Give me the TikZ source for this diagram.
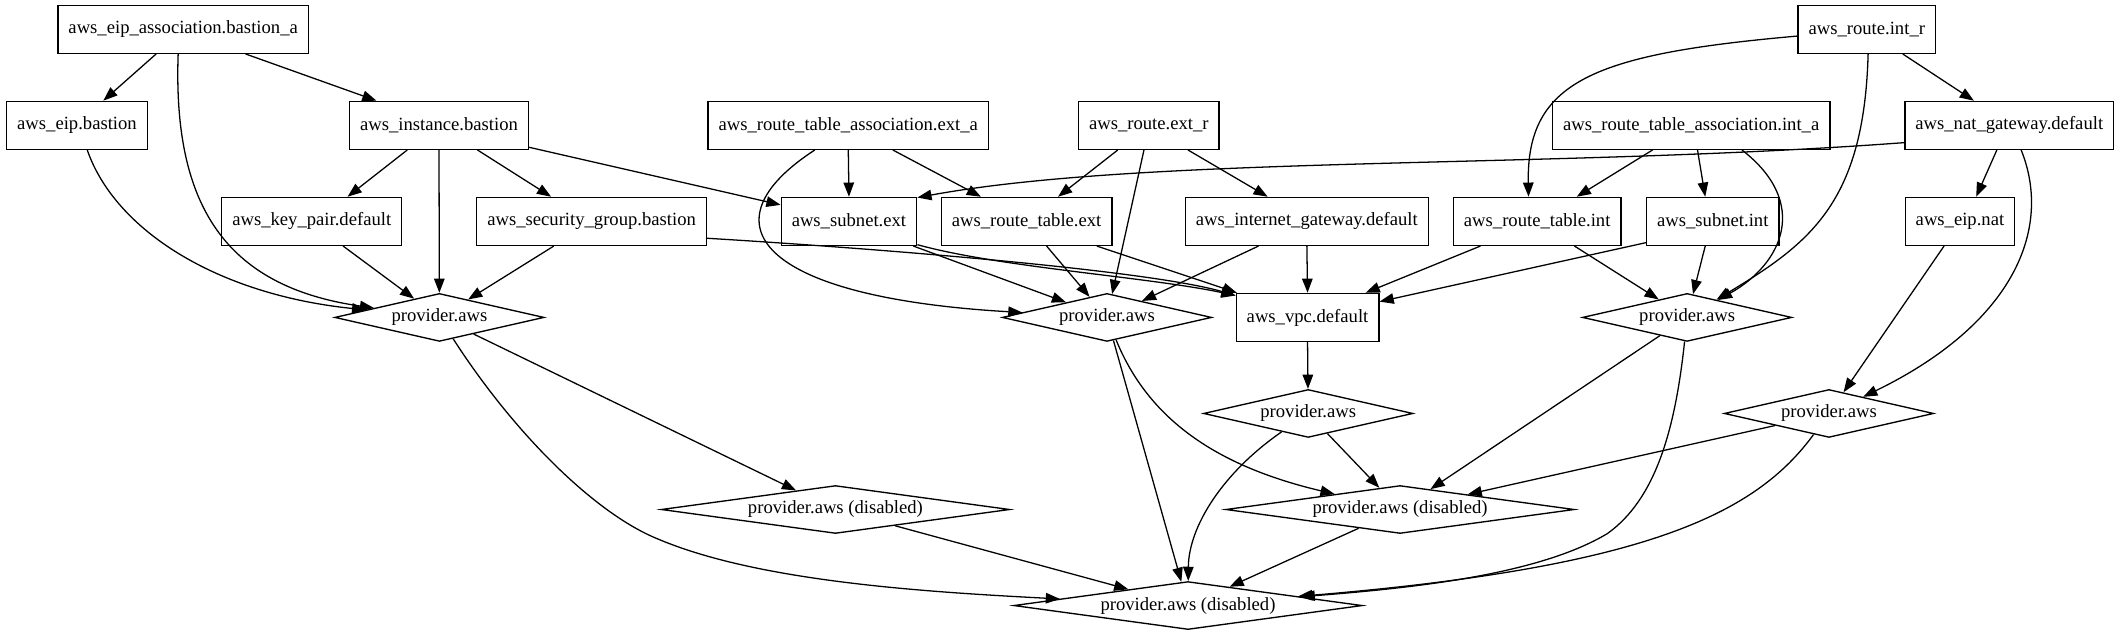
\documentclass[tikz,border=0pt]{standalone}
\usepackage{fontspec}
\setmainfont{Liberation Serif}
\usetikzlibrary{shapes.geometric,arrows.meta}
\begin{document}
\begin{tikzpicture}[x=1pt,y=-1pt,
  every node/.style={font=\fontsize{13.8}{16}\selectfont},
  box/.style={draw, line width=1pt, rectangle, minimum height=35.5pt, inner xsep=7.8pt, inner ysep=0pt},
  dia/.style={draw, line width=1pt, diamond, inner sep=0pt, minimum width=155pt, minimum height=35.5pt, aspect=4.37},
  wdia/.style={dia, minimum width=258pt, aspect=7.3},
  e/.style={draw, line width=0.95pt, -{Triangle[length=10.5pt,width=7.8pt]}}
]
\useasboundingbox (0,0) rectangle (1568,470);
% nodes
\node[box] (eipassoc) at (135.6,21.7) {aws\_eip\_association.bastion\_a};
\node[box] (eipbastion) at (57,92.8) {aws\_eip.bastion};
\node[box] (instance) at (325,92.8) {aws\_instance.bastion};
\node[box] (keypair) at (230.8,163.9) {aws\_key\_pair.default};
\node[box] (secgroup) at (438,163.9) {aws\_security\_group.bastion};
\node[dia] (provL) at (325.3,235) {provider.aws};
\node[box] (rtaext) at (628,92.8) {aws\_route\_table\_association.ext\_a};
\node[box] (routeextr) at (850.5,92.8) {aws\_route.ext\_r};
\node[box] (subnetext) at (628.5,163.9) {aws\_subnet.ext};
\node[box] (rtableext) at (760,163.9) {aws\_route\_table.ext};
\node[box] (igw) at (967.5,163.9) {aws\_internet\_gateway.default};
\node[dia] (provM) at (819.5,235) {provider.aws};
\node[box] (vpc) at (968,235) {aws\_vpc.default};
\node[dia] (provC) at (968.5,306.1) {provider.aws};
\node[box] (routeintr) at (1382,21.7) {aws\_route.int\_r};
\node[box] (rtaint) at (1252,92.8) {aws\_route\_table\_association.int\_a};
\node[box] (nat) at (1487.5,92.8) {aws\_nat\_gateway.default};
\node[box] (rtableint) at (1138,163.9) {aws\_route\_table.int};
\node[box] (subnetint) at (1268,163.9) {aws\_subnet.int};
\node[box] (eipnat) at (1451,163.9) {aws\_eip.nat};
\node[dia] (provR) at (1249,235) {provider.aws};
\node[dia] (provFR) at (1354,306.1) {provider.aws};
\node[wdia] (disL) at (618.5,377.2) {provider.aws (disabled)};
\node[wdia] (disM) at (1036.5,377.2) {provider.aws (disabled)};
\node[wdia] (disB) at (879.5,448.3) {provider.aws (disabled)};
% edges: left group
\draw[e] ([xshift=-20pt]eipassoc.south) -- ([xshift=19.5pt]eipbastion.north);
\draw[e] ([xshift=46.2pt]eipassoc.south) -- ([xshift=-46.3pt]instance.north);
\draw[e] ([xshift=-3.7pt]eipassoc.south) .. controls (128,150) and (165,212) .. (provL);
\draw[e] ([xshift=7.6pt]eipbastion.south) .. controls (85,170) and (160,218) .. (provL);
\draw[e] ([xshift=-23.5pt]instance.south) -- ([xshift=26.5pt]keypair.north);
\draw[e] ([xshift=28.5pt]instance.south) -- ([xshift=-30pt]secgroup.north);
\draw[e] (instance.south) -- (provL);
\draw[e] ([yshift=2pt]instance.south east) -- ([yshift=-6pt]subnetext.north west);
\draw[e] ([xshift=23.2pt]keypair.south) -- (provL);
\draw[e] ([xshift=-28pt]secgroup.south) -- (provL);
\draw[e] ([yshift=-12.5pt]secgroup.east) .. controls (650,184) and (850,200) .. ([yshift=-2pt]vpc.north west);
% middle group
\draw[e] (rtaext.south) -- (subnetext.north);
\draw[e] ([xshift=33pt]rtaext.south) -- ([xshift=-33.8pt]rtableext.north);
\draw[e] ([xshift=-24.8pt]rtaext.south) .. controls (520,165) and (560,220) .. (provM);
\draw[e] ([xshift=-23pt]routeextr.south) -- ([xshift=23.3pt]rtableext.north);
\draw[e] ([xshift=29pt]routeextr.south) -- ([xshift=-29pt]igw.north);
\draw[e] ([xshift=-3.6pt]routeextr.south) -- (provM);
\draw[e] ([xshift=-3pt]subnetext.south east) -- (provM);
\draw[e] ([yshift=1pt]subnetext.south east) .. controls (740,198) and (850,205) .. ([yshift=-2pt]vpc.north west);
\draw[e] ([xshift=52pt]rtableext.south) -- ([xshift=1pt]vpc.north west);
\draw[e] ([xshift=14.8pt]rtableext.south) -- (provM);
\draw[e] ([xshift=-35.8pt]igw.south) -- (provM);
\draw[e] (igw.south) -- (vpc.north);
\draw[e] (vpc.south) -- (provC);
% right group
\draw[e] ([yshift=-12.8pt]nat.west) .. controls (1150,125) and (850,115) .. ([yshift=-0.6pt]subnetext.north east);
\draw[e] ([xshift=-9.2pt]nat.south) -- ([xshift=12pt]eipnat.north);
\draw[e] ([xshift=8.8pt]nat.south) .. controls (1520,170) and (1490,240) .. (provFR);
\draw[e] ([xshift=-11.8pt]eipnat.south) -- (provFR);
\draw[e] ([yshift=-5pt]routeintr.west) .. controls (1180,40) and (1130,60) .. ([xshift=-6.4pt]rtableint.north);
\draw[e] ([xshift=26.6pt]routeintr.south) -- ([xshift=-26.2pt]nat.north);
\draw[e] ([xshift=1pt]routeintr.south) .. controls (1380,150) and (1340,180) .. (provR);
\draw[e] ([xshift=-28.6pt]rtaint.south) -- ([xshift=29.3pt]rtableint.north);
\draw[e] ([xshift=4.7pt]rtaint.south) -- ([xshift=-5.6pt]subnetint.north);
\draw[e] ([xshift=37.6pt]rtaint.south) .. controls (1340,150) and (1320,195) .. (provR);
\draw[e] ([xshift=-42pt]rtableint.south) -- ([xshift=43pt]vpc.north);
\draw[e] ([xshift=27.6pt]rtableint.south) -- (provR);
\draw[e] ([yshift=2.5pt]subnetint.south west) -- ([yshift=11.7pt]vpc.east);
\draw[e] ([xshift=-5.6pt]subnetint.south) -- (provR);
% bottom
\draw[e] (provL) -- (disL);
\draw[e] (provL) .. controls (380,320) and (440,380) .. (487,399) .. controls (560,430) and (680,438) .. (disB);
\draw[e] (provM) .. controls (850,310) and (900,345) .. (disM);
\draw[e] (provM) -- (disB);
\draw[e] (provC) -- (disM);
\draw[e] (provC) .. controls (905,350) and (880,390) .. (disB);
\draw[e] (provR) -- (disM);
\draw[e] (provR) .. controls (1240,320) and (1225,370) .. (1190,395) .. controls (1140,425) and (1050,435) .. (disB);
\draw[e] (provFR) -- (disM);
\draw[e] (provFR) .. controls (1300,380) and (1220,420) .. (disB);
\draw[e] (disM) -- (disB);
\draw[e] (disL) -- (disB);
\end{tikzpicture}
\end{document}
